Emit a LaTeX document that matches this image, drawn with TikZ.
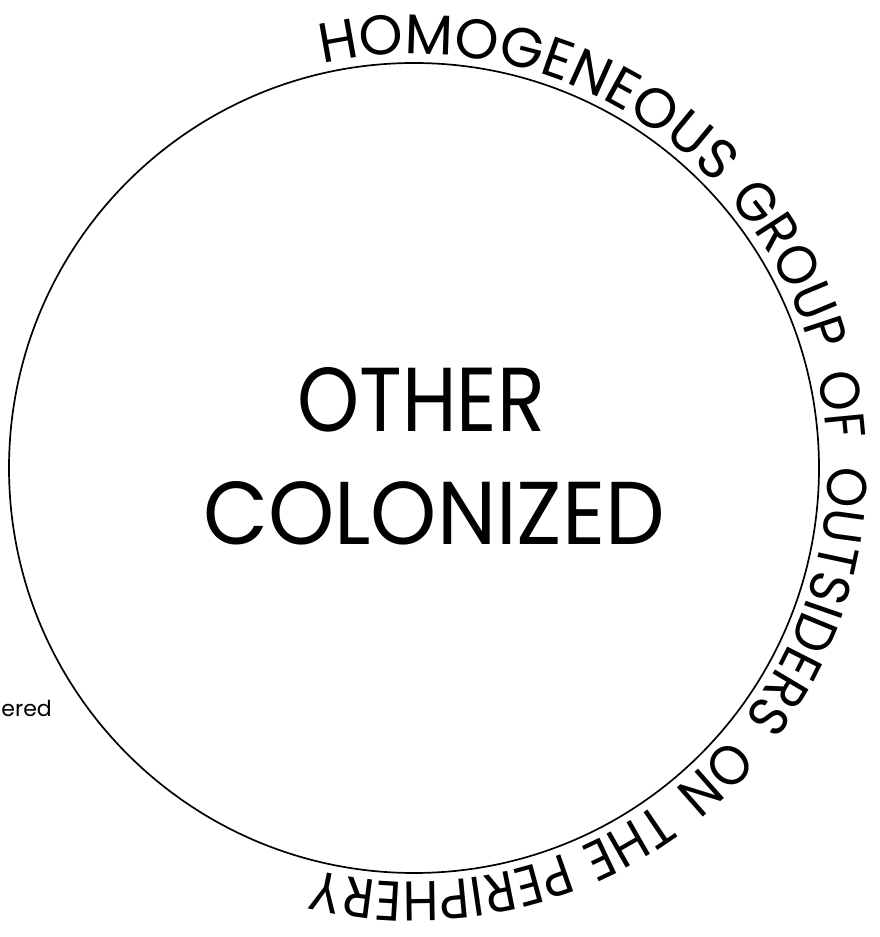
\documentclass[tikz,border=0pt]{standalone}
\usepackage{fontspec}
\setmainfont{Poppins}
\newfontfamily\ringnarrow{Poppins}[FakeStretch=0.92]
\usetikzlibrary{decorations.text}
\newcommand\ringfmt{\fontsize{56pt}{60pt}\selectfont}
\newcommand\ringnarrowfmt{\ringnarrow\fontsize{56pt}{60pt}\selectfont}
\tikzset{
  ringword/.style={decorate, decoration={text along path, text align=fit to path}},
  ringwordmid/.style={decorate, decoration={text along path, text align=center}},
  outline/.style={draw=black, line width=1.7pt},
  bigword/.style={anchor=base west, inner sep=0pt}
}
% word spread between a start and an end angle (clockwise)
\newcommand\ringword[3]{%
  \path[ringword, decoration={text={|\ringfmt|#1}}, shift={(414,469)}]
    (#2:414pt) arc[start angle=#2, end angle=#3, radius=414pt];}
% word with natural spacing, centred on an angle
\newcommand\ringwordmid[2]{%
  \path[ringwordmid, decoration={text={|\ringnarrowfmt|#1}}, shift={(414,469)}]
    ({#2+40}:414pt) arc[start angle={#2+40}, end angle={#2-40}, radius=414pt];}
\begin{document}
\begin{tikzpicture}[x=1pt,y=1pt]
\useasboundingbox (0,0) rectangle (879,937);
\coordinate (C) at (414,469);
\draw[outline] (C) circle[radius=405pt];
\ringword{HOMOGENEOUS}{102.8}{44.2}
\ringwordmid{GROUP}{28.4}
\ringwordmid{OF}{8.4}
\ringwordmid{OUTSIDERS}{-18.5}
\ringwordmid{ON}{-45.8}
\ringwordmid{THE}{-60.2}
\ringwordmid{PERIPHERY}{-86.2}
\node[bigword] (other) at (297,505) {\resizebox{248pt}{64pt}{OTHER}};
\node[bigword] (colonized) at (203,392) {\resizebox{462pt}{63pt}{COLONIZED}};
\node[anchor=base east, inner sep=0pt, font=\fontsize{22pt}{26pt}\selectfont] (ered) at (52,220) {ered};
\end{tikzpicture}
\end{document}
